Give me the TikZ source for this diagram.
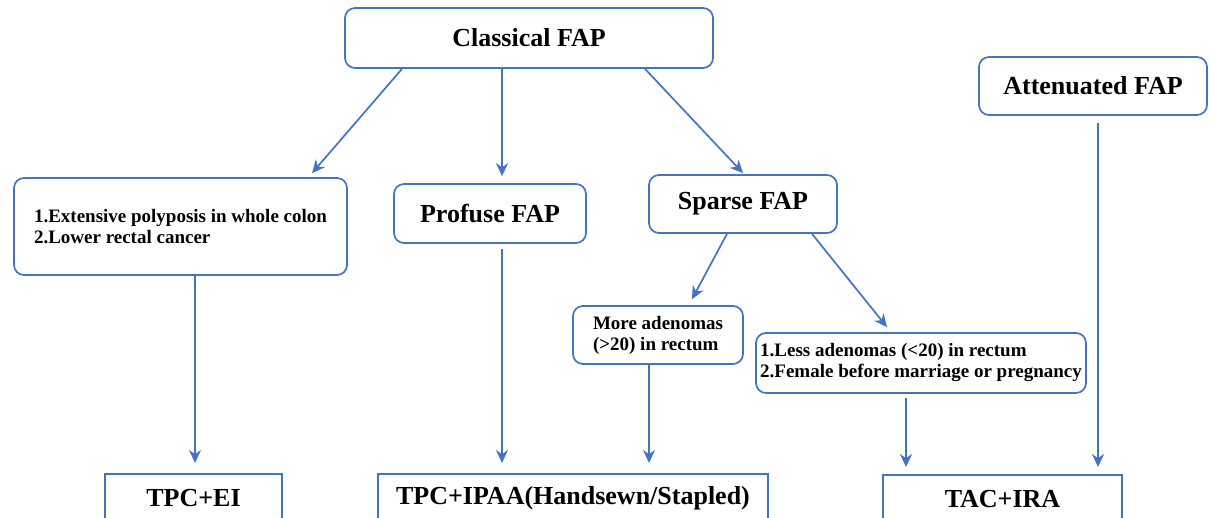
\documentclass[tikz,border=0pt]{standalone}
\usepackage{fontspec}
\setmainfont{Liberation Serif}
\usepackage{xcolor}
\definecolor{colorLink}{RGB}{68,114,196}
\colorlet{colorBox}{colorLink}
\usepackage{tikz}
\usetikzlibrary{arrows.meta}
\tikzset{
  bigbox/.style={draw=colorBox, line width=1.7pt, rounded corners=10pt, font=\fontsize{26}{30}\selectfont\bfseries, align=center},
  smallbox/.style={draw=colorBox, line width=1.7pt, rounded corners=10pt, font=\fontsize{19}{21}\selectfont\bfseries, align=left},
  resultbox/.style={draw=colorBox, line width=1.7pt, anchor=north, minimum height=48pt, font=\fontsize{26}{30}\selectfont\bfseries},
  link/.style={->, draw=colorLink, line width=1.7pt}
}

\begin{document}
\begin{tikzpicture}[x=1pt, y=-1pt, >={Stealth[length=13pt, width=12pt]}]
\useasboundingbox (0,0) rectangle (1210,518);
\clip (0,0) rectangle (1210,518);
\node[bigbox, minimum width=368pt, minimum height=60pt] (classical) at (529,38) {Classical FAP};
\node[bigbox, minimum width=228pt, minimum height=58pt] (attenuated) at (1093,86) {Attenuated FAP};
\node[smallbox, minimum width=333pt, minimum height=97pt] (extensive) at (180.5,226.5) {1.Extensive polyposis in whole colon\\2.Lower rectal cancer};
\node[bigbox, minimum width=192pt, minimum height=59pt] (profuse) at (490,213.5) {Profuse FAP};
\node[bigbox, minimum width=188pt, minimum height=58pt] (sparse) at (743,204) {Sparse FAP};
\node[smallbox, minimum width=170pt, minimum height=58pt] (more) at (658,335) {More adenomas\\(>20) in rectum};
\node[smallbox, minimum width=330pt, minimum height=60pt] (less) at (921,363) {1.Less adenomas (<20) in rectum\\2.Female before marriage or pregnancy};
\node[resultbox, minimum width=177pt] (tpcei) at (193.5,473) {TPC+EI};
\node[resultbox, minimum width=390pt] (tpcipaa) at (573,473) {TPC+IPAA(Handsewn/Stapled)};
\node[resultbox, minimum width=239pt] (tacira) at (1002.5,474) {TAC+IRA};
\draw[link] ([xshift=-127pt]classical.south) -- ([xshift=131.5pt, yshift=4pt]extensive.north);
\draw[link] ([xshift=-27pt]classical.south) -- ([xshift=12pt, yshift=7pt]profuse.north);
\draw[link] ([xshift=116pt]classical.south) -- ([yshift=1pt]sparse.north);
\draw[link] ([xshift=14.5pt]extensive.south) -- ([xshift=1.5pt, yshift=10pt]tpcei.north);
\draw[link] ([xshift=12pt, yshift=-5pt]profuse.south) -- ([xshift=-71pt, yshift=10pt]tpcipaa.north);
\draw[link] ([xshift=-16pt]sparse.south) -- ([xshift=34pt, yshift=6pt]more.north);
\draw[link] ([xshift=69pt]sparse.south) -- ([xshift=-34pt, yshift=5pt]less.north);
\draw[link] ([xshift=-9pt]more.south) -- ([xshift=76pt, yshift=10pt]tpcipaa.north);
\draw[link] ([xshift=-15pt, yshift=-4pt]less.south) -- ([xshift=-96.5pt, yshift=7pt]tacira.north);
\draw[link] ([xshift=5pt, yshift=-7pt]attenuated.south) -- ([xshift=95.5pt, yshift=7pt]tacira.north);
\end{tikzpicture}
\end{document}
